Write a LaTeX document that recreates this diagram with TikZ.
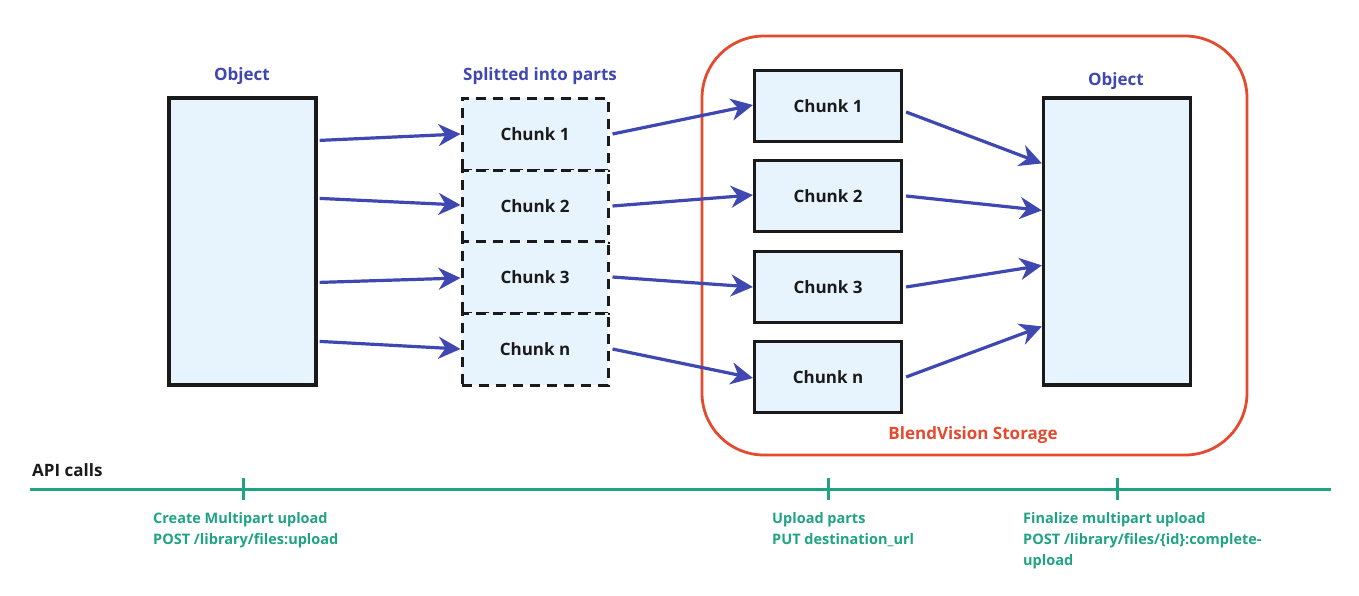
\documentclass[tikz,border=0pt]{standalone}
\usepackage{fontspec}
\setmainfont{Open Sans}
\usetikzlibrary{arrows.meta,calc}
\definecolor{bblue}{HTML}{3F47B1}
\definecolor{lfill}{HTML}{E7F3FD}
\definecolor{rred}{HTML}{E34A2E}
\definecolor{tgreen}{HTML}{1FA383}
\definecolor{dk}{HTML}{1A1A1A}
\begin{document}
\begin{tikzpicture}[x=1pt,y=-1pt,
  obj/.style={draw=dk,line width=3.2pt,fill=lfill,minimum width=147pt,minimum height=287pt,inner sep=0pt},
  dchunk/.style={draw=dk,line width=3pt,fill=lfill,dash pattern=on 10pt off 7pt,minimum width=146pt,minimum height=72pt,inner sep=0pt},
  chunkbox/.style={draw=dk,line width=3.2pt,fill=lfill,minimum width=147pt,minimum height=71pt,inner sep=0pt},
  ctext/.style={font=\bfseries\fontsize{17}{20}\selectfont,text=dk},
  btitle/.style={font=\bfseries\fontsize{17}{20}\selectfont,text=bblue},
  arr/.style={draw=bblue,line width=3.2pt,-{Stealth[length=22pt,width=22pt,inset=7pt]}},
  gtext/.style={font=\bfseries\fontsize{14.5}{21}\selectfont,text=tgreen,align=left,anchor=north west,inner sep=0pt},
  tick/.style={draw=tgreen,line width=3pt}
]
\useasboundingbox (0,0) rectangle (1359,595);
% storage frame
\draw[draw=rred,line width=2.8pt,rounded corners=62pt] (702,36) rectangle (1247,455);
\node[font=\bfseries\fontsize{17}{20}\selectfont,text=rred] (stor) at (973,435) {BlendVision Storage};
% left object
\node[obj] (objL) at (242.5,241.5) {};
\node[btitle] (objLt) at (242,76) {Object};
% dashed chunks
\node[btitle] (splt) at (540,76) {Splitted into parts};
\node[dchunk] (d1) at (535,134) {};
\node[dchunk] (d2) at (535,206) {};
\node[dchunk] (d3) at (535,277) {};
\node[dchunk] (d4) at (535,349) {};
\node[ctext] at (d1) {Chunk 1};
\node[ctext] at (d2) {Chunk 2};
\node[ctext] at (d3) {Chunk 3};
\node[ctext] at (d4) {Chunk n};
% right chunks
\node[chunkbox] (c1) at (828,106) {};
\node[chunkbox] (c2) at (828,196) {};
\node[chunkbox] (c3) at (828,287) {};
\node[chunkbox] (c4) at (828,377) {};
\node[ctext] at (c1) {Chunk 1};
\node[ctext] at (c2) {Chunk 2};
\node[ctext] at (c3) {Chunk 3};
\node[ctext] at (c4) {Chunk n};
% right object
\node[obj] (objR) at (1117,241.5) {};
\node[btitle] (objRt) at (1116,81) {Object};
% arrows left -> dashed
\draw[arr] ($(objL.north east)+(2,44)$) -- (d1.west);
\draw[arr] ($(objL.north east)+(2,102)$) -- ($(d2.west)+(0,-1)$);
\draw[arr] ($(objL.north east)+(2,186)$) -- ($(d3.west)+(0,1)$);
\draw[arr] ($(objL.north east)+(2,245)$) -- (d4.west);
% dashed -> right chunks
\draw[arr] ($(d1.east)+(3,0)$) -- ($(c1.west)+(0,-1)$);
\draw[arr] ($(d2.east)+(3,0)$) -- ($(c2.west)+(0,-1)$);
\draw[arr] ($(d3.east)+(3,0)$) -- (c3.west);
\draw[arr] ($(d4.east)+(3,0)$) -- ($(c4.west)+(0,1)$);
% right chunks -> object
\draw[arr] ($(c1.east)+(3,6)$) -- ($(objR.north west)+(0,67)$);
\draw[arr] ($(c2.east)+(3,0)$) -- ($(objR.north west)+(0,114)$);
\draw[arr] ($(c3.east)+(3,0)$) -- ($(objR.north west)+(0,169)$);
\draw[arr] ($(c4.east)+(3,0)$) -- ($(objR.north west)+(0,230)$);
% timeline
\node[font=\bfseries\fontsize{17}{20}\selectfont,text=dk,anchor=west,inner sep=0pt] (api) at (32,470) {API calls};
\coordinate (tl0) at (30,489);
\coordinate (tl1) at (1331,489);
\draw[tick] (tl0) -- (tl1);
\coordinate (t1) at (243,489);
\coordinate (t2) at (828,489);
\coordinate (t3) at (1117,489);
\draw[tick] ($(t1)+(0,-11)$) -- ($(t1)+(0,11)$);
\draw[tick] ($(t2)+(0,-11)$) -- ($(t2)+(0,11)$);
\draw[tick] ($(t3)+(0,-11)$) -- ($(t3)+(0,11)$);
\node[gtext] (l1) at (153,512) {Create Multipart upload\\POST /library/files:upload};
\node[gtext] (l2) at (772,512) {Upload parts\\PUT destination\_url};
\node[gtext] (l3) at (1023,512) {Finalize multipart upload\\POST /library/files/\{id\}:complete-\\upload};
\end{tikzpicture}
\end{document}
